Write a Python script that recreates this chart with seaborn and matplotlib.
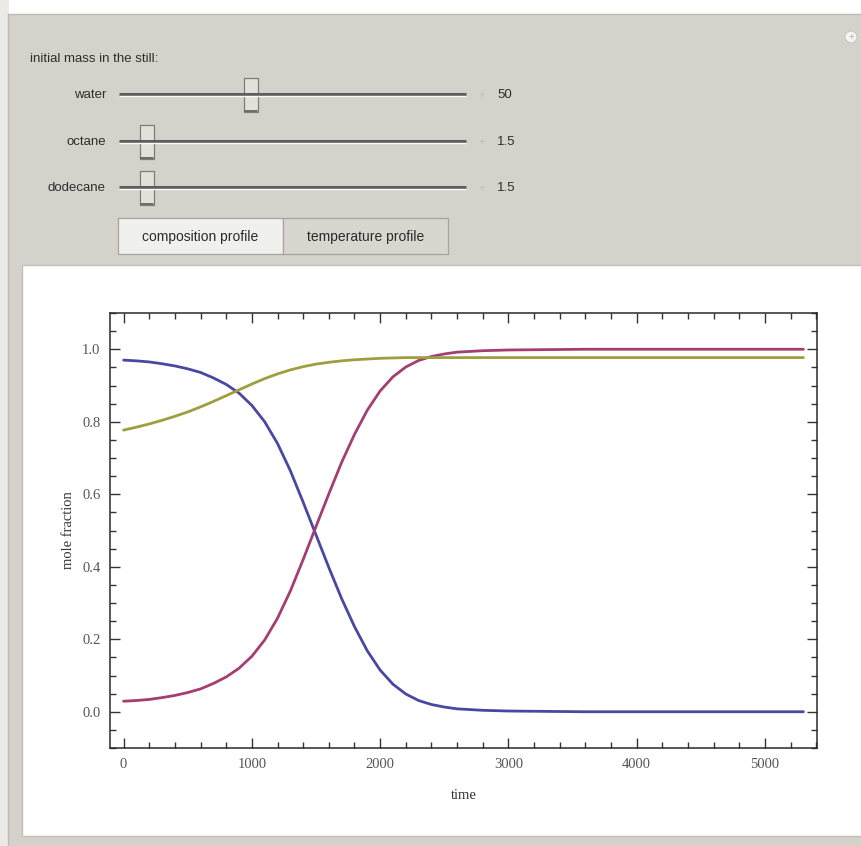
import numpy as np
import pandas as pd
import matplotlib
matplotlib.use("Agg")
import matplotlib.pyplot as plt
from matplotlib.patches import Rectangle, Circle
from matplotlib.lines import Line2D
from matplotlib.ticker import MultipleLocator, FormatStrFormatter
import seaborn as sns

# values
time = [0, 100, 200, 300, 400, 500, 600, 700, 800, 900, 1000, 1100, 1200, 1300, 1400,
        1500, 1600, 1700, 1800, 1900, 2000, 2100, 2200, 2300, 2400, 2500, 2600, 2800,
        3000, 3300, 3600, 4000, 4500, 5000, 5300]
blue = [0.970, 0.968, 0.965, 0.960, 0.954, 0.946, 0.936, 0.921, 0.903, 0.879, 0.845,
        0.800, 0.740, 0.665, 0.578, 0.488, 0.398, 0.312, 0.235, 0.168, 0.115, 0.076,
        0.049, 0.031, 0.020, 0.013, 0.008, 0.004, 0.002, 0.001, 0.000, 0.000, 0.000,
        0.000, 0.000]
red = [0.029, 0.031, 0.034, 0.039, 0.045, 0.053, 0.063, 0.078, 0.096, 0.120, 0.153,
       0.198, 0.258, 0.333, 0.420, 0.511, 0.601, 0.688, 0.765, 0.832, 0.885, 0.924,
       0.951, 0.969, 0.980, 0.987, 0.992, 0.996, 0.998, 0.999, 1.000, 1.000, 1.000,
       1.000, 1.000]
yellow = [0.777, 0.785, 0.794, 0.804, 0.815, 0.827, 0.841, 0.856, 0.872, 0.888, 0.904,
          0.919, 0.932, 0.943, 0.952, 0.959, 0.964, 0.968, 0.971, 0.973, 0.975, 0.976,
          0.977, 0.977, 0.977, 0.977, 0.977, 0.977, 0.977, 0.977, 0.977, 0.977, 0.977,
          0.977, 0.977]

slider_names = ["water", "octane", "dodecane"]
slider_values = ["50", "1.5", "1.5"]
button_labels = ["composition profile", "temperature profile"]

n = len(time)
df = pd.DataFrame({
    "time": time * 3,
    "mole fraction": blue + red + yellow,
    "component": ["blue"] * n + ["red"] * n + ["yellow"] * n,
})

sns.set_style("ticks")
plt.rcParams["font.family"] = ["Liberation Sans", "DejaVu Sans"]

W, H = 861, 846
fig = plt.figure(figsize=(W / 100, H / 100), dpi=100)
fig.patch.set_facecolor("white")

def fx(x):
    return x / W

def fy(y):
    return 1 - y / H

def box(x0, y0, x1, y1, **kw):
    fig.add_artist(Rectangle((fx(x0), fy(y1)), (x1 - x0) / W, (y1 - y0) / H,
                             transform=fig.transFigure, **kw))

def hline(x0, x1, y, **kw):
    fig.add_artist(Line2D([fx(x0), fx(x1)], [fy(y), fy(y)], transform=fig.transFigure, **kw))

# Manipulate panel background (kept behind the axes)
box(0, 0, 9, H, facecolor="#ebeae6", edgecolor="none", zorder=-10)
box(8, 14, W + 2, H + 2, facecolor="#d5d2cb", edgecolor="#bdbab3", linewidth=1, zorder=-9)
box(22, 265, W + 2, 836, facecolor="white", edgecolor="#c4c1ba", linewidth=1, zorder=-8)

# top right icon
fig.add_artist(Circle((fx(851), fy(37)), 6 / W, transform=fig.transFigure,
                      facecolor="#f4f4f2", edgecolor="#c8c6c0", linewidth=0.8))
fig.text(fx(851), fy(37), "+", ha="center", va="center", fontsize=7, color="#b5b3ad")

fig.text(fx(30), fy(59), "initial mass in the still:", ha="left", va="center",
         fontsize=9.5, color="#2e2e2e")

track_y = [95, 142, 188]
thumb_x = [251, 147, 147]
for name, val, ty, tx in zip(slider_names, slider_values, track_y, thumb_x):
    fig.text(fx(106), fy(ty), name, ha="right", va="center", fontsize=9.5, color="#2e2e2e")
    hline(119, 466, ty - 1, color="#5e5e5e", linewidth=2.2, solid_capstyle="butt")
    hline(119, 466, ty + 1, color="#fbfbfa", linewidth=1.0, solid_capstyle="butt")
    box(tx - 7, ty - 17, tx + 7, ty + 17, facecolor="#e4e1da", edgecolor="#7d7b76",
        linewidth=0.9)
    hline(tx - 6, tx + 6, ty + 16, color="#5a5955", linewidth=1.2)
    fig.text(fx(482), fy(ty), "+", ha="center", va="center", fontsize=8, color="#bcbab4")
    fig.text(fx(497), fy(ty), val, ha="left", va="center", fontsize=9.5, color="#2e2e2e")

box(118, 218, 283, 254, facecolor="#f0f0ee", edgecolor="#a5a39e", linewidth=0.9)
box(283, 218, 448, 254, facecolor="#d9d6cf", edgecolor="#a5a39e", linewidth=0.9)
fig.text(fx(200.5), fy(237), button_labels[0], ha="center", va="center",
         fontsize=10, color="#2a2a2a")
fig.text(fx(365.5), fy(237), button_labels[1], ha="center", va="center",
         fontsize=10, color="#2a2a2a")

# the plot itself
ax = fig.add_axes([fx(110), fy(748), 707 / W, 435 / H])
ax.set_facecolor("white")
sns.lineplot(data=df, x="time", y="mole fraction", hue="component",
             palette={"blue": "#4848a2", "red": "#a23e72", "yellow": "#a09d3e"},
             linewidth=2.0, legend=False, estimator=None, sort=False, ax=ax)

ax.set_xlim(-106, 5406)
ax.set_ylim(-0.1, 1.1)
ax.xaxis.set_major_locator(MultipleLocator(1000))
ax.xaxis.set_minor_locator(MultipleLocator(200))
ax.yaxis.set_major_locator(MultipleLocator(0.2))
ax.yaxis.set_minor_locator(MultipleLocator(0.05))
ax.yaxis.set_major_formatter(FormatStrFormatter("%.1f"))

serif = ["Liberation Serif", "DejaVu Serif"]
ax.tick_params(which="both", direction="in", top=True, right=True, colors="#333333",
               labelcolor="#555555", labelsize=10.5, width=1.0)
ax.tick_params(which="major", length=7, pad=7)
ax.tick_params(which="minor", length=4)
for lab in ax.get_xticklabels() + ax.get_yticklabels():
    lab.set_fontfamily(serif)
for sp in ax.spines.values():
    sp.set_color("#2a2a2a")
    sp.set_linewidth(1.1)

ax.set_xlabel("time", fontfamily=serif, fontsize=10.5, color="#333333", labelpad=13)
ax.set_ylabel("mole fraction", fontfamily=serif, fontsize=10.5, color="#333333", labelpad=5)

fig.savefig("out.png", dpi=100)
